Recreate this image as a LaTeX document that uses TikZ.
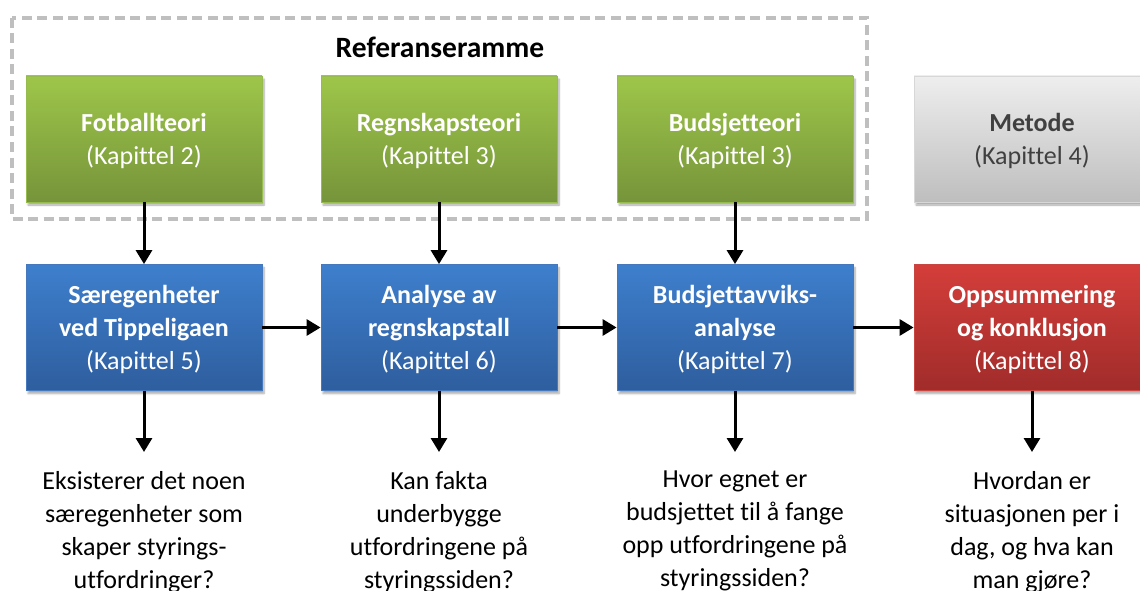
\documentclass[tikz,border=0pt]{standalone}
\usepackage{fontspec}
\setmainfont{Carlito}[Ligatures=NoCommon]
\usetikzlibrary{arrows.meta,shadows.blur}

\definecolor{grtop}{RGB}{158,198,74}
\definecolor{grbot}{RGB}{118,148,58}
\definecolor{grline}{RGB}{150,188,80}
\definecolor{bltop}{RGB}{62,127,205}
\definecolor{blbot}{RGB}{46,94,158}
\definecolor{blline}{RGB}{70,120,190}
\definecolor{rdtop}{RGB}{212,62,58}
\definecolor{rdbot}{RGB}{160,44,42}
\definecolor{rdline}{RGB}{200,70,66}
\definecolor{gytop}{RGB}{238,238,238}
\definecolor{gybot}{RGB}{190,190,190}
\definecolor{gyline}{RGB}{215,215,215}
\definecolor{gytext}{RGB}{64,64,64}
\definecolor{framegray}{RGB}{191,191,191}

\tikzset{
  chapter/.style={rectangle, minimum width=236pt, minimum height=126pt,
    inner sep=0pt, align=center, text=white, line width=0.8pt,
    text depth=0pt,
    font=\fontsize{26}{33}\selectfont,
    blur shadow={shadow xshift=2pt, shadow yshift=-3pt,
      shadow blur steps=6, shadow opacity=35}},
  theory/.style={chapter, top color=grtop, bottom color=grbot, draw=grline},
  analysis/.style={chapter, top color=bltop, bottom color=blbot, draw=blline},
  summary/.style={chapter, top color=rdtop, bottom color=rdbot, draw=rdline},
  method/.style={chapter, top color=gytop, bottom color=gybot, draw=gyline,
    text=gytext},
  question/.style={align=center, inner sep=0pt, anchor=north,
    font=\fontsize{26}{33}\selectfont},
  flow/.style={line width=3pt, -{Triangle[width=16pt,length=14pt]}},
}

\begin{document}
\begin{tikzpicture}[x=1pt, y=-1pt]
  \useasboundingbox (0,0) rectangle (1140,591);
  \begin{scope}
    \clip (0,0) rectangle (1140,591);

    % frame of reference around the theory chapters
    \draw[framegray, line width=3.5pt, dash pattern=on 10pt off 5.5pt]
      (12,18) rectangle (867,219);
    \node[font=\fontsize{29.5}{33}\selectfont\bfseries] (ref) at (440,47)
      {Referanseramme};

    % theory chapters
    \node[theory] (g1) at (144,139) {\textbf{Fotballteori}\\(Kapittel 2)};
    \node[theory] (g2) at (439,139) {\textbf{Regnskapsteori}\\(Kapittel 3)};
    \node[theory] (g3) at (735,139) {\textbf{Budsjetteori}\\(Kapittel 3)};
    \node[method] (m)  at (1032,139) {\textbf{Metode}\\(Kapittel 4)};

    % analysis chapters
    \node[analysis] (b1) at (144,327.5)
      {\textbf{Særegenheter}\\\textbf{ved Tippeligaen}\\(Kapittel 5)};
    \node[analysis] (b2) at (439,327.5)
      {\textbf{Analyse av}\\\textbf{regnskapstall}\\(Kapittel 6)};
    \node[analysis] (b3) at (735,327.5)
      {\textbf{Budsjettavviks-}\\\textbf{analyse}\\(Kapittel 7)};
    \node[summary] (r)  at (1032,327.5)
      {\textbf{Oppsummering}\\\textbf{og konklusjon}\\(Kapittel 8)};

    % research questions
    \node[question] (q1) at (144,471)
      {Eksisterer det noen\\særegenheter som\\skaper styrings-\\utfordringer?};
    \node[question] (q2) at (439,471)
      {Kan fakta\\underbygge\\utfordringene på\\styringssiden?};
    \node[question] (q3) at (735,471)
      {Hvor egnet er\\budsjettet til å fange\\opp utfordringene på\\styringssiden?};
    \node[question] (q4) at (1032,471)
      {Hvordan er\\situasjonen per i\\dag, og hva kan\\man gjøre?};

    % connectors
    \draw[flow] (g1) -- (b1);
    \draw[flow] (g2) -- (b2);
    \draw[flow] (g3) -- (b3);
    \draw[flow] (b1) -- (b2);
    \draw[flow] (b2) -- (b3);
    \draw[flow] (b3) -- (r);
    \draw[flow] (b1.south) -- ([yshift=19pt]q1.north);
    \draw[flow] (b2.south) -- ([yshift=19pt]q2.north);
    \draw[flow] (b3.south) -- ([yshift=19pt]q3.north);
    \draw[flow] (r.south)  -- ([yshift=19pt]q4.north);
  \end{scope}
\end{tikzpicture}
\end{document}
